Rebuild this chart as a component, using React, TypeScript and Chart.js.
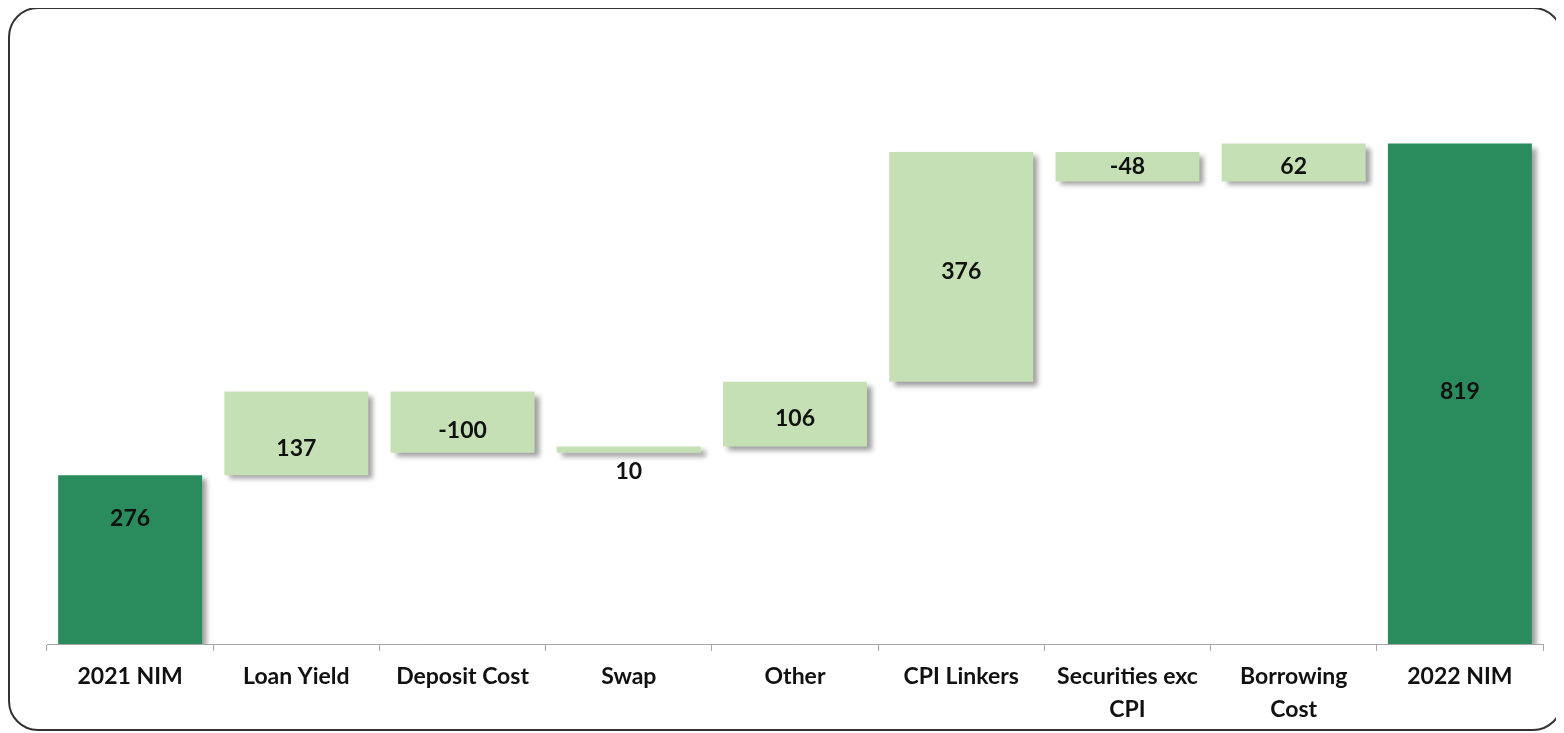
import React, { useEffect, useRef } from "react";
import { Chart, registerables } from "chart.js";

Chart.register(...registerables);

const categories: (string | string[])[] = [
  "2021 NIM",
  "Loan Yield",
  "Deposit Cost",
  "Swap",
  "Other",
  "CPI Linkers",
  ["Securities exc", "CPI"],
  ["Borrowing", "Cost"],
  "2022 NIM",
];
const changes = [276, 137, -100, 10, 106, 376, -48, 62, 819];
const isTotal = [true, false, false, false, false, false, false, false, true];
const labelOffsets = [-41, 15, 8, 22, 4, 5, 0, 4, -2];

const DARK = "#2A8B5D";
const LIGHT = "#C5E0B4";
const FONT = "Lato, 'Open Sans', sans-serif";

function buildRanges(): [number, number][] {
  let running = 0;
  return changes.map((v, i) => {
    if (isTotal[i]) {
      running = v;
      return [0, v];
    }
    const start = running;
    running += v;
    return [start, running];
  });
}

export default function App() {
  const ref = useRef<HTMLCanvasElement | null>(null);

  useEffect(() => {
    if (!ref.current) return;
    const ranges = buildRanges();

    const shadowPlugin = {
      id: "barShadow",
      beforeDatasetDraw(chart: any) {
        const ctx = chart.ctx;
        ctx.save();
        ctx.shadowColor = "rgba(0,0,0,0.38)";
        ctx.shadowBlur = 5;
        ctx.shadowOffsetX = 5;
        ctx.shadowOffsetY = 4;
      },
      afterDatasetDraw(chart: any) {
        chart.ctx.restore();
      },
    };

    const labelPlugin = {
      id: "barLabels",
      afterDatasetsDraw(chart: any) {
        const ctx = chart.ctx;
        const meta = chart.getDatasetMeta(0);
        ctx.save();
        ctx.font = `bold 23px ${FONT}`;
        ctx.fillStyle = "#111";
        ctx.textAlign = "center";
        ctx.textBaseline = "middle";
        meta.data.forEach((bar: any, i: number) => {
          const p = bar.getProps(["x", "y", "base"], true);
          const cy = (p.y + p.base) / 2 + labelOffsets[i];
          ctx.fillText(String(changes[i]), p.x, cy);
        });
        ctx.restore();
      },
    };

    const chart = new Chart(ref.current, {
      type: "bar",
      data: {
        labels: categories as any,
        datasets: [
          {
            data: ranges as any,
            backgroundColor: isTotal.map((t) => (t ? DARK : LIGHT)),
            borderWidth: 0,
            borderSkipped: false,
            categoryPercentage: 1,
            barPercentage: 0.866,
          },
        ],
      },
      options: {
        animation: false,
        responsive: false,
        layout: { padding: { left: 37, right: 18, top: 85, bottom: 0 } },
        plugins: {
          legend: { display: false },
          tooltip: { enabled: false },
        },
        scales: {
          x: {
            grid: {
              display: true,
              drawOnChartArea: false,
              drawTicks: true,
              tickLength: 7,
              color: "#A6A6A6",
              offset: true,
            },
            border: { display: true, color: "#A6A6A6", width: 1 },
            ticks: {
              color: "#111",
              font: { family: FONT, weight: "bold", size: 23, lineHeight: 1.43 },
              padding: 9,
              maxRotation: 0,
              autoSkip: false,
            },
            afterFit: (s: any) => {
              s.height = 85;
            },
          },
          y: {
            display: false,
            min: 0,
            max: 900,
          },
        },
      },
      plugins: [shadowPlugin, labelPlugin],
    });
    return () => chart.destroy();
  }, []);

  return (
    <div
      style={{
        position: "relative",
        width: 1555,
        height: 724,
        marginTop: -1,
        border: "2px solid #333",
        borderRadius: 30,
        boxSizing: "border-box",
        overflow: "hidden",
        background: "#fff",
      }}
    >
      <canvas
        ref={ref}
        width={1551}
        height={720}
        style={{ position: "absolute", left: 0, top: 0, display: "block" }}
      />
    </div>
  );
}
